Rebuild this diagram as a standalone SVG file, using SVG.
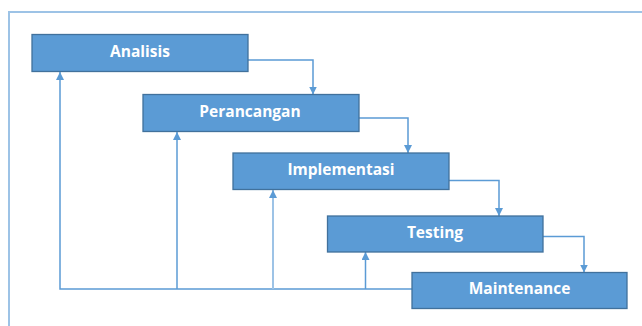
<svg xmlns="http://www.w3.org/2000/svg" width="642" height="326" viewBox="0 0 642 326">
<defs>
<style>
.box{fill:#5B9BD5;stroke:#41719C;stroke-width:1.3}
.lbl{font-family:"Open Sans","Liberation Sans",sans-serif;font-weight:bold;font-size:15.5px;fill:#ffffff;text-anchor:middle}
.con{fill:none;stroke:#5B9BD5;stroke-width:1.5}
.light{stroke:#9DC3E6;stroke-width:2}
</style>
<marker id="ah" viewBox="0 0 10 10" refX="10" refY="5" markerWidth="8" markerHeight="8" markerUnits="userSpaceOnUse" orient="auto">
<path d="M0,0 L10,5 L0,10 z" fill="#5B9BD5"/>
</marker>
</defs>
<rect width="642" height="326" fill="#ffffff"/>
<path d="M9,330 V12 H645" fill="none" stroke="#9DC3E6" stroke-width="2"/>
<g id="connectors">
<path class="con" d="M248,60 H313 V94.5" marker-end="url(#ah)"/>
<path class="con" d="M359,118 H408 V153" marker-end="url(#ah)"/>
<path class="con" d="M449,180.5 H499 V216" marker-end="url(#ah)"/>
<path class="con" d="M543,236.5 H584 V272.5" marker-end="url(#ah)"/>
<path class="con" d="M412,289 H60 V72" marker-end="url(#ah)"/>
<path class="con" d="M177,289 V132" marker-end="url(#ah)"/>
<path class="con light" d="M273,289 V190" marker-end="url(#ah)"/>
<path class="con" d="M365.5,289 V252" marker-end="url(#ah)"/>
</g>
<g id="analisis">
<rect class="box" x="32" y="34.5" width="216" height="37"/>
<text class="lbl" x="140" y="56.5">Analisis</text>
</g>
<g id="perancangan">
<rect class="box" x="143" y="94.5" width="216" height="37"/>
<text class="lbl" x="250" y="116.5">Perancangan</text>
</g>
<g id="implementasi">
<rect class="box" x="233" y="153" width="216" height="36.5"/>
<text class="lbl" x="341" y="175">Implementasi</text>
</g>
<g id="testing">
<rect class="box" x="327.5" y="216" width="215.5" height="36"/>
<text class="lbl" x="435" y="237.5">Testing</text>
</g>
<g id="maintenance">
<rect class="box" x="412" y="272.5" width="215" height="36"/>
<text class="lbl" x="519.5" y="294">Maintenance</text>
</g>
</svg>
